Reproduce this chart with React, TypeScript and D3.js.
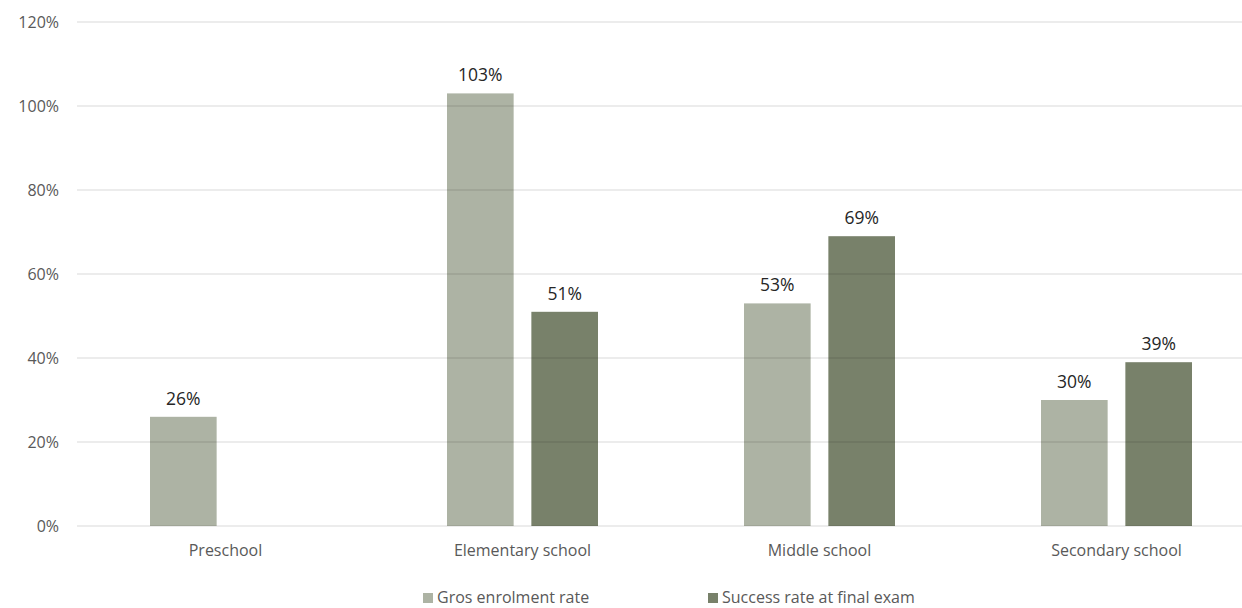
import React from "react";
import * as d3 from "d3";

const categories = ["Preschool", "Elementary school", "Middle school", "Secondary school"];
const seriesNames = ["Gros enrolment rate", "Success rate at final exam"];
const enrolment: (number | null)[] = [26, 103, 53, 30];
const success: (number | null)[] = [null, 51, 69, 39];
const yTicks = [0, 20, 40, 60, 80, 100, 120];

const colors = ["#adb3a4", "#78816a"];
const W = 1242;
const H = 608;
const FONT = "'Open Sans', 'Noto Sans', sans-serif";

export default function App() {
  const x = d3.scaleBand<string>().domain(categories).range([77, 1265]).paddingInner(0).paddingOuter(0);
  const inner = d3.scaleBand<string>().domain(seriesNames).range([73, 73 + 151]).paddingInner(0.21);
  const y = d3.scaleLinear().domain([0, 120]).range([526, 22]);
  const series = [enrolment, success];

  return (
    <svg
      width={W}
      height={H}
      style={{ position: "absolute", left: 0, top: 0, background: "#fff" }}
      fontFamily={FONT}
    >
      {/* bars */}
      {series.map((vals, si) =>
        vals.map((v, ci) =>
          v == null ? null : (
            <rect
              key={`b${si}-${ci}`}
              x={x(categories[ci])! + inner(seriesNames[si])!}
              y={y(v)}
              width={inner.bandwidth()}
              height={y(0) - y(v)}
              fill={colors[si]}
            />
          )
        )
      )}
      {/* gridlines drawn over bars, slightly translucent */}
      {yTicks.map((t) => (
        <line key={`g${t}`} x1={77} x2={1265} y1={y(t)} y2={y(t)} stroke="#000" strokeOpacity={0.15} strokeWidth={1} />
      ))}
      {/* y tick labels */}
      {yTicks.map((t) => (
        <text key={`t${t}`} x={59} y={y(t)} dy="0.35em" textAnchor="end" fontSize={16} fill="#595959">
          {`${t}%`}
        </text>
      ))}
      {/* category labels */}
      {categories.map((c) => (
        <text key={c} x={x(c)! + x.bandwidth() / 2} y={550} dy="0.35em" textAnchor="middle" fontSize={16} fill="#595959">
          {c}
        </text>
      ))}
      {/* data labels */}
      {series.map((vals, si) =>
        vals.map((v, ci) =>
          v == null ? null : (
            <text
              key={`l${si}-${ci}`}
              x={x(categories[ci])! + inner(seriesNames[si])! + inner.bandwidth() / 2}
              y={y(v) - 12}
              textAnchor="middle"
              fontSize={17.5}
              fill="#262626"
            >
              {`${v}%`}
            </text>
          )
        )
      )}
      {/* legend */}
      {seriesNames.map((s, i) => {
        const lx = i === 0 ? 423 : 708;
        return (
          <g key={s}>
            <rect x={lx} y={593} width={10} height={10} fill={colors[i]} />
            <text x={lx + 14} y={603} fontSize={16} fill="#595959">
              {s}
            </text>
          </g>
        );
      })}
    </svg>
  );
}
